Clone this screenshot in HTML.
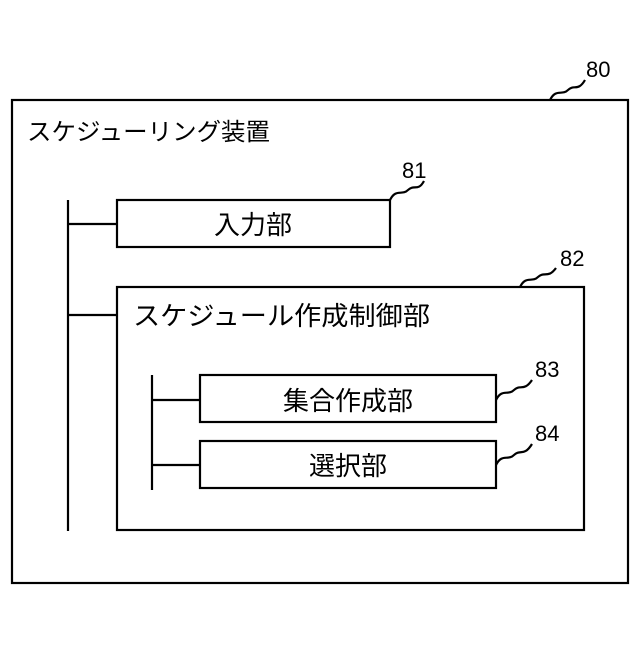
<!DOCTYPE html>
<html><head><meta charset="utf-8"><style>
body{margin:0;background:#fff;}
svg text{font-family:"Liberation Sans","Noto Sans CJK JP",sans-serif;fill:#000;}
</style></head><body>
<svg width="640" height="640" viewBox="0 0 640 640" xmlns="http://www.w3.org/2000/svg">
<g fill="none" stroke="#000" stroke-width="2.2">
<rect x="12" y="100" width="616" height="483"/>
<path d="M550 100 C556 88,562 96,568 90 C574 84,578 92,585 80"/>
<line x1="68" y1="200" x2="68" y2="531"/>
<line x1="68" y1="224" x2="117" y2="224"/>
<rect x="117" y="200" width="273" height="47"/>
<path d="M390 200 C396 188,402 196,408 190 C414 184,418 192,424 181"/>
<line x1="68" y1="315" x2="117" y2="315"/>
<rect x="117" y="287" width="467" height="243"/>
<path d="M520 287 C526 275,532 283,538 277 C544 271,548 279,556 268"/>
<line x1="152" y1="375" x2="152" y2="490"/>
<line x1="152" y1="400" x2="200" y2="400"/>
<rect x="200" y="375" width="296" height="47"/>
<path d="M496 400 C502 388,508 396,514 390 C520 384,524 392,532 380"/>
<line x1="152" y1="465" x2="200" y2="465"/>
<rect x="200" y="441" width="296" height="47"/>
<path d="M496 465 C502 453,508 461,514 455 C520 449,524 457,532 444"/>
</g>
<text x="27" y="140" font-size="24" textLength="243" lengthAdjust="spacingAndGlyphs">スケジューリング装置</text>
<text x="586" y="77" font-size="22">80</text>
<text x="402" y="178" font-size="22">81</text>
<text x="560" y="266" font-size="22">82</text>
<text x="535" y="377" font-size="22">83</text>
<text x="535" y="441" font-size="22">84</text>
<text x="253" y="234" font-size="26" text-anchor="middle">入力部</text>
<text x="133" y="325" font-size="26" textLength="297" lengthAdjust="spacingAndGlyphs">スケジュール作成制御部</text>
<text x="348" y="410" font-size="26" text-anchor="middle">集合作成部</text>
<text x="348" y="475" font-size="26" text-anchor="middle">選択部</text>
</svg>
</body></html>
